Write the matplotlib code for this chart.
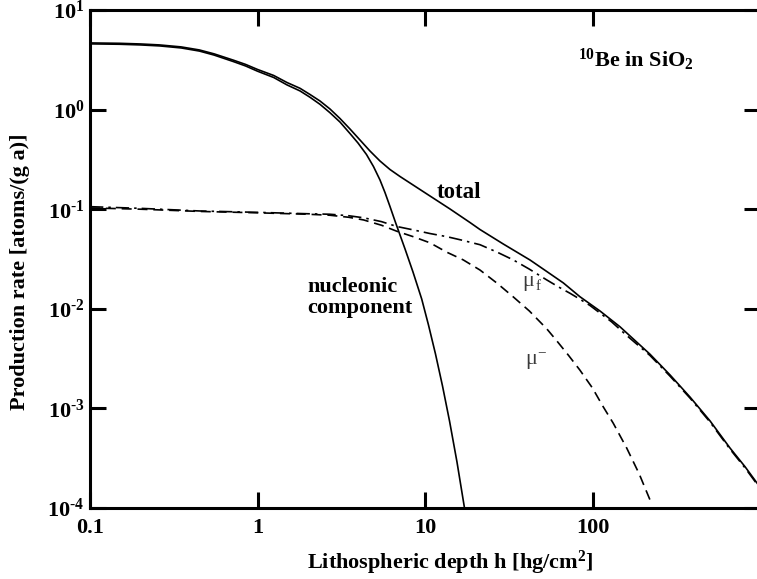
import matplotlib
matplotlib.use('Agg')
import matplotlib.pyplot as plt
from matplotlib.ticker import FixedLocator, NullLocator

# Werte: Tiefe h [hg/cm2], Produktionsrate [atoms/(g a)]
h_total = [0.1, 0.15, 0.2, 0.26, 0.35, 0.45, 0.55, 0.72, 0.85, 1.0, 1.25, 1.5, 1.794, 2.058,
           2.361, 2.709, 3.108, 3.566, 4.091, 4.694, 5.386, 6.180, 7.092, 8.136, 9.335, 10.71,
           14.10, 18.56, 21.30, 29.35, 42.36, 53.30, 66.94, 84.24, 110.9, 145.9, 220.4, 290.1,
           382.0, 502.8, 662.1, 813.8, 1000]
p_total = [4.67, 4.63, 4.56, 4.46, 4.26, 3.97, 3.63, 3.13, 2.84, 2.53, 2.20, 1.87, 1.636, 1.418,
           1.220, 1.014, 0.814, 0.6385, 0.4953, 0.3839, 0.3047, 0.2503, 0.2130, 0.1833, 0.1577,
           0.1357, 0.1005, 0.0735, 0.0625, 0.0447, 0.0309, 0.0237, 0.0182, 0.0132, 0.0095,
           0.0066, 0.0035, 0.00217, 0.00130, 0.00075, 0.00040, 0.00026, 0.000162]

h_nucl = [0.1, 0.15, 0.2, 0.26, 0.35, 0.45, 0.55, 0.72, 0.85, 1.0, 1.25, 1.5, 1.794, 2.058,
          2.361, 2.709, 3.108, 3.566, 3.981, 4.474, 4.926, 5.386, 5.769, 6.180, 6.621, 7.092,
          7.598, 8.479, 9.557, 10.49, 11.55, 12.72, 14.01, 15.52, 17.21]
p_nucl = [4.57, 4.53, 4.46, 4.36, 4.16, 3.87, 3.53, 3.03, 2.74, 2.43, 2.10, 1.77, 1.54, 1.33,
          1.13, 0.93, 0.75, 0.575, 0.462, 0.354, 0.268, 0.1965, 0.147, 0.1064, 0.0761, 0.0551,
          0.0399, 0.0234, 0.01254, 0.00688, 0.00352, 0.00168, 0.000747, 0.00029, 0.0001]

h_mu_fast = [0.1, 0.2, 0.45, 1.0, 2.0, 2.7, 3.5, 4.3, 5.5, 6.8, 8.5, 10.7, 13.5, 16.5, 21.3, 27,
             33.6, 42, 53.3, 63, 73.5, 84, 96.6, 130, 160, 220.4, 290.1, 382.0, 502.8, 662.1,
             813.8, 1000]
p_mu_fast = [0.106, 0.102, 0.096, 0.093, 0.090, 0.089, 0.086, 0.082, 0.075, 0.067, 0.062, 0.057,
             0.053, 0.049, 0.044, 0.037, 0.031, 0.025, 0.0195, 0.0165, 0.0143, 0.0125, 0.0108,
             0.0074, 0.0054, 0.0034, 0.00211, 0.00127, 0.00073, 0.00039, 0.000253, 0.000158]

h_mu_neg = [0.1, 0.2, 0.45, 1.0, 2.0, 2.7, 3.5, 4.3, 5.5, 6.8, 8.5, 10.7, 13.5, 16.9, 21.3, 27,
            33.6, 42, 53.3, 61, 72, 84, 100, 115, 133, 160, 190, 225]
p_mu_neg = [0.103, 0.100, 0.095, 0.092, 0.089, 0.087, 0.083, 0.078, 0.069, 0.060, 0.053, 0.046,
            0.037, 0.031, 0.0245, 0.018, 0.0132, 0.0095, 0.0063, 0.0048, 0.0034, 0.00243,
            0.0016, 0.00106, 0.00071, 0.0004, 0.00022, 0.000111]

x_ticks = [0.1, 1, 10, 100]
x_ticklabels = ['0.1', '1', '10', '100']
y_ticks = [1e-4, 1e-3, 1e-2, 1e-1, 1e0, 1e1]
y_ticklabels = [r'$10^{\text{-}4}$', r'$10^{\text{-}3}$', r'$10^{\text{-}2}$',
                r'$10^{\text{-}1}$', r'$10^{0}$', r'$10^{1}$']

plt.rcParams['font.family'] = 'Liberation Serif'
plt.rcParams['font.weight'] = 'bold'
plt.rcParams['mathtext.fontset'] = 'custom'
plt.rcParams['mathtext.rm'] = 'Liberation Serif:bold'
plt.rcParams['mathtext.bf'] = 'Liberation Serif:bold'
plt.rcParams['mathtext.it'] = 'Liberation Serif:bold'

W, H = 757, 579
fig = plt.figure(figsize=(W / 100, H / 100), dpi=100)
# rechte Achse liegt knapp ausserhalb des Bildes (wie im Original abgeschnitten)
ax = fig.add_axes([90 / W, 71 / H, 670 / W, 498 / H])

lw = 1.2
ax.plot(h_total, p_total, color='black', lw=lw)
ax.plot(h_nucl, p_nucl, color='black', lw=lw)
ax.plot(h_mu_fast, p_mu_fast, color='black', lw=lw, dashes=(8, 3, 1.5, 3))
ax.plot(h_mu_neg, p_mu_neg, color='black', lw=lw, dashes=(6, 3.5))

ax.set_xscale('log')
ax.set_yscale('log')
ax.set_xlim(0.1, 1000)
ax.set_ylim(1e-4, 10)

ax.xaxis.set_major_locator(FixedLocator(x_ticks))
ax.yaxis.set_major_locator(FixedLocator(y_ticks))
ax.xaxis.set_minor_locator(NullLocator())
ax.yaxis.set_minor_locator(NullLocator())
ax.set_xticklabels(x_ticklabels)
ax.set_yticklabels(y_ticklabels)

for s in ax.spines.values():
    s.set_linewidth(2.2)
ax.tick_params(which='major', direction='in', length=11.5, width=2.2,
               top=True, right=True, labelsize=16)
ax.tick_params(axis='x', pad=7)
ax.tick_params(axis='y', pad=4)

fig.text(450 / W, 1 - 563 / H, r'Lithospheric depth h [hg/cm$^{2}$]', fontsize=16,
         fontweight='bold', ha='center', va='center')
fig.text(20 / W, 1 - 272 / H, 'Production rate [atoms/(g a)]', fontsize=16,
         fontweight='bold', rotation=90, ha='center', va='center')

fig.text(578 / W, 1 - 67 / H, r'$^{10}$Be in SiO$_{2}$', fontsize=16, ha='left', va='baseline')
fig.text(437 / W, 1 - 198 / H, 'total', fontsize=16.5, ha='left', va='baseline')
fig.text(307 / W, 1 - 313 / H, 'nucleonic\ncomponent', fontsize=16, ha='left', va='baseline',
         linespacing=1.1)

# Myonen-Beschriftungen: normale Schrift, grau
mu_col = '#3a3a3a'
fig.text(522 / W, 1 - 286 / H, 'μ', fontsize=16, fontweight='normal', color=mu_col,
         ha='left', va='baseline')
fig.text(536 / W, 1 - 290 / H, 'f', fontsize=11, fontweight='normal', color=mu_col,
         ha='left', va='baseline')
fig.text(525 / W, 1 - 364 / H, 'μ', fontsize=16, fontweight='normal', color=mu_col,
         ha='left', va='baseline')
fig.text(537 / W, 1 - 356 / H, '\u2212', fontsize=11, fontweight='normal', color=mu_col,
         ha='left', va='baseline')

fig.savefig('out.png', dpi=100)
